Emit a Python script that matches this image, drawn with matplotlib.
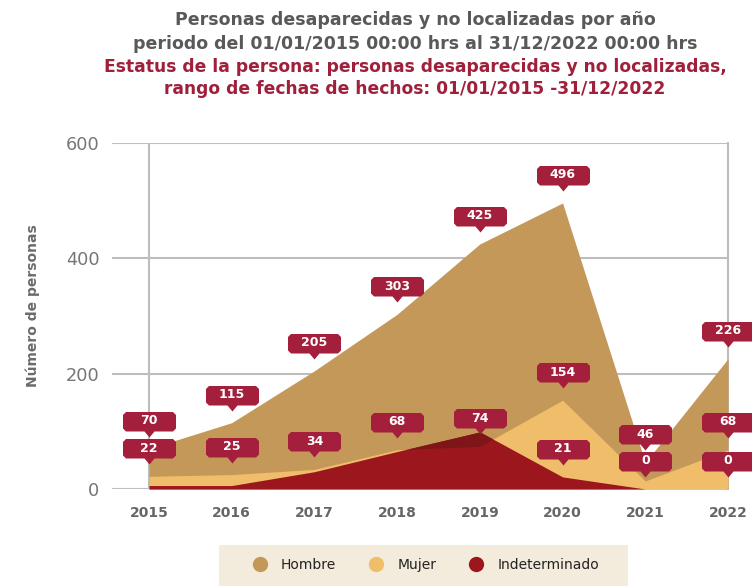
import matplotlib
matplotlib.use("Agg")
import matplotlib.pyplot as plt
import matplotlib.transforms as mtransforms
from matplotlib.path import Path
from matplotlib.lines import Line2D
from matplotlib.patches import Rectangle
import numpy as np

# data
years = [2015, 2016, 2017, 2018, 2019, 2020, 2021, 2022]
hombre = [70, 115, 205, 303, 425, 496, 46, 226]
mujer = [22, 25, 34, 68, 74, 154, 14, 68]
indet = [6, 6, 30, 65, 99, 21, 0, 0]
# which value labels are visible per series
show_hombre = [True] * 8
show_mujer = [True, True, True, True, True, True, False, True]
show_indet = [False, False, False, False, False, True, True, True]

series_names = ["Hombre", "Mujer", "Indeterminado"]
c_tan = "#C49858"
c_orange = "#F0BD6B"
c_red = "#9C171D"
c_dark = "#7E1519"
c_label = "#A31F3B"
c_grid = "#BDBDBD"

fig = plt.figure(figsize=(7.52, 5.86), dpi=100)
W, H = 752, 586
ax = fig.add_axes([112 / W, 1 - 489 / H, (728 - 112) / W, (489 - 143) / H])

x = np.array(years)
yh = np.array(hombre)
ym = np.array(mujer)
yi = np.array(indet)

ax.fill_between(x, 0, yh, color=c_tan, lw=0, zorder=2)
ax.fill_between(x, 0, ym, color=c_orange, lw=0, zorder=3)
ax.fill_between(x, 0, yi, color=c_red, lw=0, zorder=4)
# red over the tan area looks darker in the original
ax.fill_between(x, ym, yi, where=yi > ym, interpolate=True, color=c_dark, lw=0, zorder=5)

ax.set_xlim(2015 - 37 / 82.71, 2022)
ax.set_ylim(0, 600)
ax.set_yticks([0, 200, 400, 600])
ax.set_xticks(years)
for s in ax.spines.values():
    s.set_visible(False)
ax.yaxis.grid(True, color=c_grid, lw=1.5, zorder=1)
ax.axvline(2015, color=c_grid, lw=1.5, zorder=1)
ax.axvline(2022, color=c_grid, lw=1.5, zorder=1, clip_on=False)
ax.set_axisbelow(True)
ax.tick_params(axis="y", length=0, pad=9, labelsize=12.8, labelcolor="#767676")
ax.tick_params(axis="x", length=0, pad=12, labelsize=10, labelcolor="#666666")
for t in ax.get_xticklabels():
    t.set_fontweight("bold")

# callout shaped marker (pixels, relative to the data point)
verts = [(-5, 18), (0, 12), (5, 18), (23.5, 18), (26.5, 21), (26.5, 34.5), (23.5, 37.5),
         (-23.5, 37.5), (-26.5, 34.5), (-26.5, 21), (-23.5, 18), (-5, 18)]
callout = Path(verts, closed=True)
msize = 2 * 37.5 * 72 / 100
text_tr = mtransforms.offset_copy(ax.transData, fig=fig, x=0, y=28, units="dots")

for vals, shows in [(hombre, show_hombre), (mujer, show_mujer), (indet, show_indet)]:
    for yr, v, s in zip(years, vals, shows):
        if not s:
            continue
        ax.plot(yr, v, marker=callout, markersize=msize, color=c_label, mew=0,
                ls="none", zorder=8, clip_on=False)
        ax.text(yr, v, str(v), transform=text_tr, ha="center", va="center",
                color="white", fontsize=9, fontweight="bold", zorder=9, clip_on=False)

# titles
fig.text(415 / W, 1 - 20 / H, "Personas desaparecidas y no localizadas por año",
         ha="center", va="center", fontsize=12.5, fontweight="bold", color="#595959")
fig.text(415 / W, 1 - 44 / H, "periodo del 01/01/2015 00:00 hrs al 31/12/2022 00:00 hrs",
         ha="center", va="center", fontsize=12.5, fontweight="bold", color="#595959")
fig.text(415 / W, 1 - 67 / H, "Estatus de la persona: personas desaparecidas y no localizadas,",
         ha="center", va="center", fontsize=12.3, fontweight="bold", color="#A0203C")
fig.text(415 / W, 1 - 89 / H, "rango de fechas de hechos: 01/01/2015 -31/12/2022",
         ha="center", va="center", fontsize=12.3, fontweight="bold", color="#A0203C")

fig.text(33 / W, 1 - 306 / H, "Número de personas", rotation=90, ha="center", va="center",
         fontsize=10, fontweight="bold", color="#6b6b6b")

# legend with beige band
fig.patches.append(Rectangle((219 / W, 0), 409 / W, 41 / H, transform=fig.transFigure,
                             facecolor="#F3EBDC", edgecolor="none", zorder=0))
handles = [Line2D([], [], marker="o", ls="none", markersize=11, mfc=c, mec="none")
           for c in [c_tan, c_orange, c_red]]
fig.legend(handles, series_names, ncol=3, loc="center", bbox_to_anchor=(426 / W, 21 / H),
           frameon=False, fontsize=10, handlelength=1.0, handletextpad=1.0,
           columnspacing=2.4, labelcolor="#222222")

fig.savefig("out.png", dpi=100)
